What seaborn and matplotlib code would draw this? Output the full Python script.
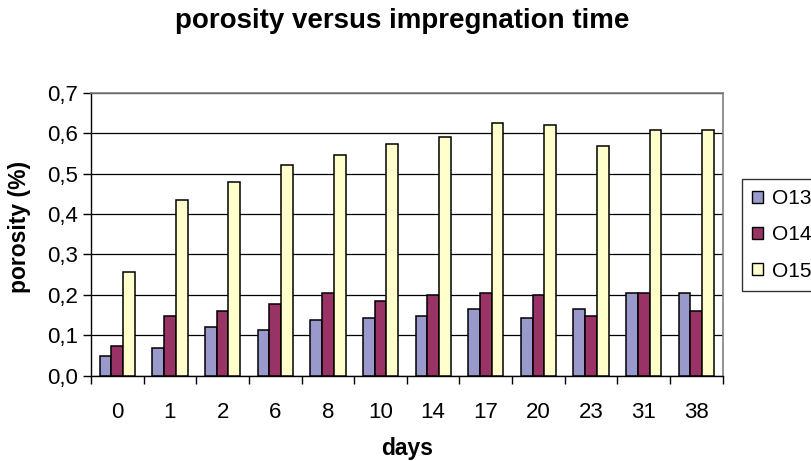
import matplotlib
matplotlib.use("Agg")
import matplotlib.pyplot as plt
import seaborn as sns
import pandas as pd
from matplotlib.patches import Patch
from matplotlib.ticker import MultipleLocator, FixedLocator, FuncFormatter

# Impregnation days (categories) and porosity of the three samples
days = ["0", "1", "2", "6", "8", "10", "14", "17", "20", "23", "31", "38"]
o13 = [0.048, 0.069, 0.121, 0.112, 0.138, 0.143, 0.147, 0.165, 0.143, 0.165, 0.204, 0.204]
o14 = [0.073, 0.147, 0.161, 0.177, 0.204, 0.186, 0.199, 0.204, 0.199, 0.147, 0.204, 0.161]
o15 = [0.256, 0.434, 0.478, 0.521, 0.547, 0.574, 0.591, 0.626, 0.621, 0.569, 0.608, 0.608]
samples = ["O13", "O14", "O15"]
colors = ["#9999CC", "#993366", "#FFFFCC"]

df = pd.DataFrame({
    "days": days * 3,
    "porosity": o13 + o14 + o15,
    "sample": [s for s in samples for _ in days],
})

sns.set_theme(style="white")
plt.rcParams["font.family"] = ["Liberation Sans", "DejaVu Sans"]
plt.rcParams["text.color"] = "black"
plt.rcParams["xtick.color"] = "black"
plt.rcParams["ytick.color"] = "black"
plt.rcParams["axes.labelcolor"] = "black"

fig = plt.figure(figsize=(8.11, 4.61), dpi=100)
ax = fig.add_axes([0.1122, 0.185, 0.7789, 0.6139])

sns.barplot(data=df, x="days", y="porosity", hue="sample", order=days,
            hue_order=samples, palette=colors, width=0.67,
            edgecolor="black", linewidth=1.1, saturation=1, legend=False,
            errorbar=None, ax=ax, zorder=3)

ax.set_ylim(0, 0.7)
ax.set_xlim(-0.5, len(days) - 0.5)
ax.yaxis.set_major_locator(MultipleLocator(0.1))
ax.yaxis.set_major_formatter(FuncFormatter(lambda v, p: f"{v:.1f}".replace(".", ",")))
ax.grid(axis="y", color="black", linewidth=0.9, zorder=0)
ax.set_axisbelow(True)

# tick marks sit between categories, labels at the category centres
ax.xaxis.set_major_locator(FixedLocator(range(len(days))))
ax.xaxis.set_minor_locator(FixedLocator([i - 0.5 for i in range(len(days) + 1)]))
ax.tick_params(axis="x", which="major", length=0, pad=19, labelsize=16)
ax.tick_params(axis="x", which="minor", length=6, width=1, color="black",
               direction="out", bottom=True)
ax.tick_params(axis="y", which="major", length=6, width=1, color="black",
               direction="out", left=True, labelsize=16, pad=3)

for side in ["top", "right"]:
    ax.spines[side].set_color("#808080")
    ax.spines[side].set_linewidth(1.2)
for side in ["left", "bottom"]:
    ax.spines[side].set_color("black")
    ax.spines[side].set_linewidth(1.0)

ax.set_xlabel("days", fontsize=16.5, fontweight="bold", labelpad=10)
ax.set_ylabel("porosity (%)", fontsize=16.5, fontweight="bold")
ax.yaxis.set_label_coords(-0.095, 0.525)
fig.suptitle("porosity versus impregnation time", fontsize=20,
             fontweight="bold", x=0.496, y=0.983)

handles = [Patch(facecolor=c, edgecolor="black", linewidth=1.0) for c in colors]
leg = fig.legend(handles, samples, loc="upper left",
                 bbox_to_anchor=(741.7 / 811, 1 - 179 / 461),
                 fontsize=15, frameon=True, fancybox=False,
                 handlelength=0.5, handleheight=0.5, handletextpad=0.45,
                 labelspacing=0.82, borderpad=0.5, borderaxespad=0)
leg.get_frame().set_edgecolor("black")
leg.get_frame().set_linewidth(1.0)

fig.savefig("out.png", dpi=100)
